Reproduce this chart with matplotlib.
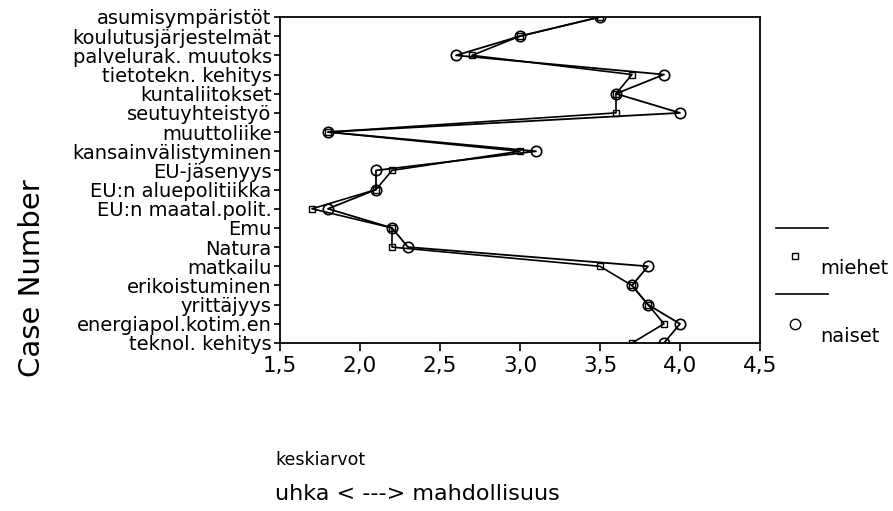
import matplotlib
matplotlib.use("Agg")
import matplotlib.pyplot as plt
from matplotlib.lines import Line2D
import numpy as np

# -------------------------------------------------------------
# DATA
# -------------------------------------------------------------
categories = ["asumisympäristöt", "koulutusjärjestelmät", "palvelurak. muutoks",
              "tietotekn. kehitys", "kuntaliitokset", "seutuyhteistyö", "muuttoliike",
              "kansainvälistyminen", "EU-jäsenyys", "EU:n aluepolitiikka",
              "EU:n maatal.polit.", "Emu", "Natura", "matkailu", "erikoistuminen",
              "yrittäjyys", "energiapol.kotim.en", "teknol. kehitys"]
miehet = [3.5, 3.0, 2.7, 3.7, 3.6, 3.6, 1.8, 3.0, 2.2, 2.1,
          1.7, 2.2, 2.2, 3.5, 3.7, 3.8, 3.9, 3.7]
naiset = [3.5, 3.0, 2.6, 3.9, 3.6, 4.0, 1.8, 3.1, 2.1, 2.1,
          1.8, 2.2, 2.3, 3.8, 3.7, 3.8, 4.0, 3.9]
x_ticks = [1.5, 2.0, 2.5, 3.0, 3.5, 4.0, 4.5]
x_tick_labels = ["1,5", "2,0", "2,5", "3,0", "3,5", "4,0", "4,5"]

W, H = 893, 511


def fx(px):
    return px / W


def fy(py):
    return 1 - py / H


fig = plt.figure(figsize=(W / 100, H / 100), dpi=100)
ax = fig.add_axes([fx(280), fy(343), 480 / W, 326 / H])

ypos = np.arange(1, len(categories) + 1)

ax.plot(miehet, ypos, color="black", lw=1.2, marker="s", markersize=5,
        markerfacecolor="none", markeredgecolor="black", markeredgewidth=1.0)
ax.plot(naiset, ypos, color="black", lw=1.3, marker="o", markersize=7.5,
        markerfacecolor="none", markeredgecolor="black", markeredgewidth=1.2)

ax.set_xlim(1.5, 4.5)
ax.set_ylim(len(categories), 1)
ax.set_xticks(x_ticks)
ax.set_xticklabels(x_tick_labels, fontsize=15.5, family="DejaVu Sans")
ax.set_yticks(ypos)
ax.set_yticklabels(categories, fontsize=14, family="DejaVu Sans")
ax.tick_params(axis="y", direction="out", length=4, width=1.2, pad=2)
ax.tick_params(axis="x", direction="out", length=6, width=1.2, pad=3)
for sp in ax.spines.values():
    sp.set_linewidth(1.3)

# axis texts
fig.text(fx(32), fy(278), "Case Number", rotation=90, ha="center", va="center",
         fontsize=21, family="DejaVu Sans")
fig.text(fx(275), fy(460), "keskiarvot", ha="left", va="center",
         fontsize=12.5, family="DejaVu Sans")
fig.text(fx(275), fy(494), "uhka < ---> mahdollisuus", ha="left", va="center",
         fontsize=16, family="DejaVu Sans")

# legend, SPSS style: line above, marker + label below
for y_line, y_lab, mk, ms, label in [(228, 262, "s", 5, "miehet"),
                                      (294, 330, "o", 7.5, "naiset")]:
    fig.add_artist(Line2D([fx(776), fx(828)], [fy(y_line)] * 2,
                          transform=fig.transFigure, color="black", lw=1.2))
    fig.add_artist(Line2D([fx(795)], [fy(y_lab - 6)], transform=fig.transFigure,
                          marker=mk, markersize=ms, markerfacecolor="none",
                          markeredgecolor="black", markeredgewidth=1.0, lw=0))
    fig.text(fx(820), fy(y_lab + 6), label, ha="left", va="center",
             fontsize=14, family="DejaVu Sans")

fig.savefig("out.png", dpi=100)
